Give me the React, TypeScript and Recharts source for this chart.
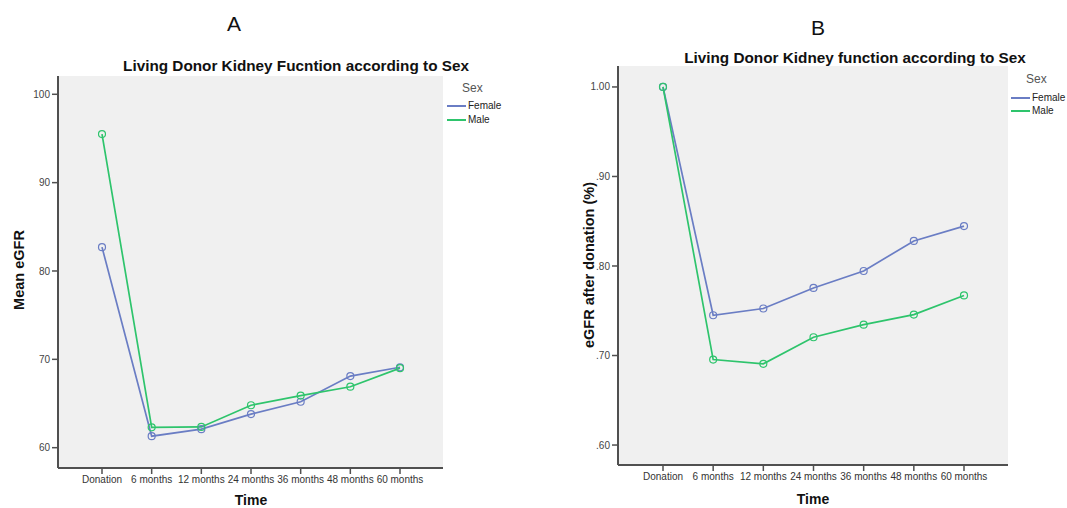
import { LineChart, Line, XAxis, YAxis, CartesianGrid } from "recharts";

const times = [
  "Donation",
  "6 months",
  "12 months",
  "24 months",
  "36 months",
  "48 months",
  "60 months",
];

// A: mean eGFR
const femaleMeanEgfr = [82.7, 61.3, 62.1, 63.8, 65.2, 68.1, 69.1];
const maleMeanEgfr = [95.5, 62.3, 62.35, 64.8, 65.9, 66.9, 69.0];
const meanTicks = [60, 70, 80, 90, 100];

// B: eGFR relative to donation
const femaleRatio = [1.0, 0.745, 0.7525, 0.7755, 0.7944, 0.828, 0.8446];
const maleRatio = [1.0, 0.6955, 0.6907, 0.7204, 0.7345, 0.7457, 0.7671];
const ratioTicks = [0.6, 0.7, 0.8, 0.9, 1.0];

const sexes = ["Female", "Male"];

const FEMALE = "#6a7dc4";
const MALE = "#2ec46c";
const BOX = "#505050";
const FONT = "'Liberation Sans', Arial, sans-serif";

const meanData = times.map((t, i) => ({
  time: t,
  Female: femaleMeanEgfr[i],
  Male: maleMeanEgfr[i],
}));

const ratioData = times.map((t, i) => ({
  time: t,
  Female: femaleRatio[i],
  Male: maleRatio[i],
}));

const fmtRatio = (v: number) => {
  const s = v.toFixed(2);
  return s.startsWith("0") ? s.slice(1) : s;
};

interface PanelProps {
  data: { time: string; Female: number; Male: number }[];
  left: number;
  width: number;
  top: number;
  right: number;
  bottom: number;
  yWidth: number;
  padL: number;
  padR: number;
  domain: [number, number];
  ticks: number[];
  fmt?: (v: number) => string;
}

function Panel(p: PanelProps) {
  const border = { stroke: BOX, strokeWidth: 2 };
  return (
    <div style={{ position: "absolute", left: p.left, top: 0 }}>
      <LineChart
        width={p.width}
        height={508}
        data={p.data}
        margin={{ top: p.top, right: p.right, bottom: 0, left: 0 }}
      >
        <CartesianGrid fill="#f0f0f0" horizontal={false} vertical={false} />
        <XAxis
          dataKey="time"
          interval={0}
          padding={{ left: p.padL, right: p.padR }}
          height={p.bottom}
          tickSize={6}
          tick={{ fontSize: 10, fill: "#333", fontFamily: FONT }}
          axisLine={border}
          tickLine={{ stroke: BOX, strokeWidth: 1.5 }}
        />
        <XAxis
          xAxisId="top"
          orientation="top"
          dataKey="time"
          height={0}
          tick={false}
          tickLine={false}
          axisLine={border}
        />
        <YAxis
          type="number"
          domain={p.domain}
          ticks={p.ticks}
          allowDataOverflow
          width={p.yWidth}
          tickSize={6}
          tickFormatter={p.fmt}
          tick={{ fontSize: 10, fill: "#444", fontFamily: FONT }}
          axisLine={border}
          tickLine={{ stroke: BOX, strokeWidth: 1.5 }}
        />
        <YAxis
          yAxisId="right"
          orientation="right"
          type="number"
          domain={p.domain}
          width={0}
          tick={false}
          tickLine={false}
          axisLine={border}
        />
        <Line
          type="linear"
          dataKey="Female"
          stroke={FEMALE}
          strokeWidth={1.7}
          dot={{ r: 3.5, fill: "none", stroke: FEMALE, strokeWidth: 1.2 }}
          activeDot={false}
          isAnimationActive={false}
        />
        <Line
          type="linear"
          dataKey="Male"
          stroke={MALE}
          strokeWidth={1.7}
          dot={{ r: 3.5, fill: "none", stroke: MALE, strokeWidth: 1.2 }}
          activeDot={false}
          isAnimationActive={false}
        />
      </LineChart>
    </div>
  );
}

function Txt({
  x,
  y,
  size,
  bold,
  color = "#111",
  rotate,
  children,
}: {
  x: number;
  y: number;
  size: number;
  bold?: boolean;
  color?: string;
  rotate?: boolean;
  children: React.ReactNode;
}) {
  return (
    <div
      style={{
        position: "absolute",
        left: x,
        top: y,
        transform: `translate(-50%, -50%)${rotate ? " rotate(-90deg)" : ""}`,
        fontSize: size,
        fontWeight: bold ? 700 : 400,
        color,
        whiteSpace: "nowrap",
        lineHeight: 1,
      }}
    >
      {children}
    </div>
  );
}

// manual legend, SPSS style
function SexLegend({ x, y, first, gap }: { x: number; y: number; first: number; gap: number }) {
  const colors = [FEMALE, MALE];
  return (
    <div style={{ position: "absolute", left: x, top: y }}>
      <div style={{ fontSize: 12, color: "#555", marginLeft: 15, lineHeight: "14px" }}>Sex</div>
      {sexes.map((s, i) => (
        <div
          key={s}
          style={{
            position: "absolute",
            left: 0,
            top: first + gap * i,
            display: "flex",
            alignItems: "center",
            fontSize: 10,
            color: "#222",
            lineHeight: "12px",
          }}
        >
          <div style={{ width: 19, height: 2, background: colors[i], marginRight: 2 }} />
          {s}
        </div>
      ))}
    </div>
  );
}

export default function App() {
  return (
    <div
      style={{
        position: "absolute",
        left: 0,
        top: 0,
        width: 1067,
        height: 508,
        background: "#fff",
        fontFamily: FONT,
        overflow: "hidden",
      }}
    >
      <Panel
        data={meanData}
        left={0}
        width={540}
        top={76}
        right={97}
        bottom={40}
        yWidth={58}
        padL={44}
        padR={43}
        domain={[57.7, 102.07]}
        ticks={meanTicks}
      />
      <Panel
        data={ratioData}
        left={540}
        width={527}
        top={66}
        right={59}
        bottom={43}
        yWidth={78}
        padL={45}
        padR={44}
        domain={[0.5777, 1.0234]}
        ticks={ratioTicks}
        fmt={fmtRatio}
      />

      <Txt x={234} y={23} size={21}>A</Txt>
      <Txt x={818} y={27} size={21}>B</Txt>
      <Txt x={296} y={66} size={15.3} bold>
        Living Donor Kidney Fucntion according to Sex
      </Txt>
      <Txt x={855} y={58} size={15.3} bold>
        Living Donor Kidney function according to Sex
      </Txt>
      <Txt x={19} y={270} size={14.5} bold rotate>
        Mean eGFR
      </Txt>
      <Txt x={589} y={265} size={14.5} bold rotate>
        eGFR after donation (%)
      </Txt>
      <Txt x={251} y={500} size={14} bold>Time</Txt>
      <Txt x={813} y={499} size={14} bold>Time</Txt>

      <SexLegend x={447} y={81} first={19} gap={14} />
      <SexLegend x={1011} y={72} first={20} gap={13} />
    </div>
  );
}
